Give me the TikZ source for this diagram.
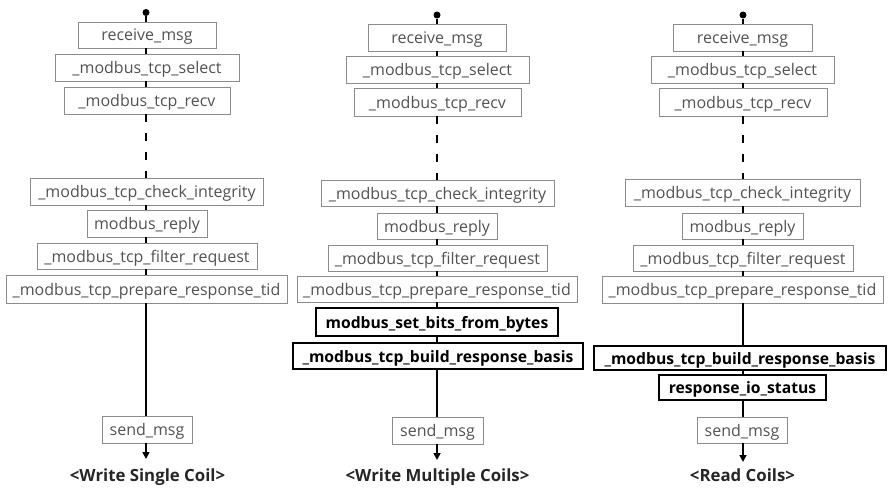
\documentclass[tikz,border=0pt]{standalone}
\usepackage{fontspec}
\setmainfont{Open Sans}
\usetikzlibrary{arrows.meta}
\begin{document}
\begin{tikzpicture}[x=1pt,y=-1pt,
  fn/.style={draw=black!45, line width=0.9pt, text=black!68, inner sep=0pt,
             text height=12pt, text depth=0pt,
             font=\fontsize{16}{16}\selectfont},
  fb/.style={draw=black, line width=2.4pt, text=black, inner sep=0pt,
             text height=12pt, text depth=0pt,
             font=\fontsize{15.7}{16}\selectfont\bfseries},
  link/.style={line width=2pt, draw=black},
  gap/.style={line width=2pt, draw=black, dash pattern=on 8pt off 11pt},
  tail/.style={line width=1.6pt, draw=black, -{Triangle[width=7pt,length=7pt]}},
  startdot/.style={circle, fill=black, inner sep=0pt, minimum size=7pt},
  caption/.style={font=\fontsize{16.8}{17}\selectfont\bfseries, text=black!85,
                  inner sep=0pt, anchor=base}
]
\useasboundingbox (0,0) rectangle (890,487);

% ---------- Write Single Coil ----------
\node[startdot] (s1) at (146,12.5) {};
\node[fn, minimum width=138, minimum height=26] (r1) at (147,35) {receive\_msg};
\node[fn, minimum width=184, minimum height=27] (sel1) at (147,67.5) {\_modbus\_tcp\_select};
\node[fn, minimum width=166, minimum height=27] (rcv1) at (147,100.5) {\_modbus\_tcp\_recv};
\node[fn, minimum width=233, minimum height=27] (chk1) at (147,191.5) {\_modbus\_tcp\_check\_integrity};
\node[fn, minimum width=120, minimum height=27] (rep1) at (147,223.5) {modbus\_reply};
\node[fn, minimum width=220, minimum height=26] (flt1) at (147,256) {\_modbus\_tcp\_filter\_request};
\node[fn, minimum width=281, minimum height=28] (tid1) at (146.5,289) {\_modbus\_tcp\_prepare\_response\_tid};
\node[fn, minimum width=90, minimum height=27] (snd1) at (147,429.5) {send\_msg};
\coordinate (e1) at (146,459);
\node[caption] (cap1) at (147.5,481.5) {<Write Single Coil>};

\draw[link] (s1) -- (r1.north -| s1);
\draw[link] (r1.south -| s1) -- (sel1.north -| s1);
\draw[link] (sel1.south -| s1) -- (rcv1.north -| s1);
\draw[gap] (rcv1.south -| s1) -- (chk1.north -| s1);
\draw[link] (chk1.south -| s1) -- (rep1.north -| s1);
\draw[link] (rep1.south -| s1) -- (flt1.north -| s1);
\draw[link] (flt1.south -| s1) -- (tid1.north -| s1);
\draw[link] (tid1.south -| s1) -- (snd1.north -| s1);
\draw[tail] (snd1.south -| s1) -- (e1);

% ---------- Write Multiple Coils ----------
\node[startdot] (s2) at (437,15) {};
\node[fn, minimum width=138, minimum height=27] (r2) at (437,37.5) {receive\_msg};
\node[fn, minimum width=183, minimum height=27] (sel2) at (437.5,69.5) {\_modbus\_tcp\_select};
\node[fn, minimum width=167, minimum height=28] (rcv2) at (437.5,102) {\_modbus\_tcp\_recv};
\node[fn, minimum width=233, minimum height=26] (chk2) at (437.5,193) {\_modbus\_tcp\_check\_integrity};
\node[fn, minimum width=120, minimum height=26] (rep2) at (437,226) {modbus\_reply};
\node[fn, minimum width=219, minimum height=26] (flt2) at (437.5,258) {\_modbus\_tcp\_filter\_request};
\node[fn, minimum width=280, minimum height=26] (tid2) at (437,289) {\_modbus\_tcp\_prepare\_response\_tid};
\node[fb, minimum width=242, minimum height=28] (bit2) at (437,322) {modbus\_set\_bits\_from\_bytes};
\node[fb, minimum width=290, minimum height=26] (bas2) at (438,356) {\_modbus\_tcp\_build\_response\_basis};
\node[fn, minimum width=91, minimum height=27] (snd2) at (437.5,430.5) {send\_msg};
\coordinate (e2) at (437,460);
\node[caption] (cap2) at (437.5,481) {<Write Multiple Coils>};

\draw[link] (s2) -- (r2.north -| s2);
\draw[link] (r2.south -| s2) -- (sel2.north -| s2);
\draw[link] (sel2.south -| s2) -- (rcv2.north -| s2);
\draw[gap] (rcv2.south -| s2) -- (chk2.north -| s2);
\draw[link] (chk2.south -| s2) -- (rep2.north -| s2);
\draw[link] (rep2.south -| s2) -- (flt2.north -| s2);
\draw[link] (flt2.south -| s2) -- (tid2.north -| s2);
\draw[link] (tid2.south -| s2) -- (bit2.north -| s2);
\draw[link] (bit2.south -| s2) -- (bas2.north -| s2);
\draw[link] (bas2.south -| s2) -- (snd2.north -| s2);
\draw[tail] (snd2.south -| s2) -- (e2);

% ---------- Read Coils ----------
\node[startdot] (s3) at (743,15) {};
\node[fn, minimum width=139, minimum height=27] (r3) at (742.5,37.5) {receive\_msg};
\node[fn, minimum width=183, minimum height=27] (sel3) at (742.5,69.5) {\_modbus\_tcp\_select};
\node[fn, minimum width=168, minimum height=28] (rcv3) at (743,102) {\_modbus\_tcp\_recv};
\node[fn, minimum width=235, minimum height=27] (chk3) at (742.5,192.5) {\_modbus\_tcp\_check\_integrity};
\node[fn, minimum width=121, minimum height=26] (rep3) at (742.5,226) {modbus\_reply};
\node[fn, minimum width=220, minimum height=26] (flt3) at (743,258) {\_modbus\_tcp\_filter\_request};
\node[fn, minimum width=281, minimum height=27] (tid3) at (742.5,289.5) {\_modbus\_tcp\_prepare\_response\_tid};
\node[fb, minimum width=292, minimum height=24] (bas3) at (740,358) {\_modbus\_tcp\_build\_response\_basis};
\node[fb, minimum width=167, minimum height=25] (ios3) at (742.5,387.5) {response\_io\_status};
\node[fn, minimum width=90, minimum height=26] (snd3) at (742,430) {send\_msg};
\coordinate (e3) at (743,462);
\node[caption] (cap3) at (742.5,481) {<Read Coils>};

\draw[link] (s3) -- (r3.north -| s3);
\draw[link] (r3.south -| s3) -- (sel3.north -| s3);
\draw[link] (sel3.south -| s3) -- (rcv3.north -| s3);
\draw[gap] (rcv3.south -| s3) -- (chk3.north -| s3);
\draw[link] (chk3.south -| s3) -- (rep3.north -| s3);
\draw[link] (rep3.south -| s3) -- (flt3.north -| s3);
\draw[link] (flt3.south -| s3) -- (tid3.north -| s3);
\draw[link] (tid3.south -| s3) -- (bas3.north -| s3);
\draw[link] (bas3.south -| s3) -- (ios3.north -| s3);
\draw[link] (ios3.south -| s3) -- (snd3.north -| s3);
\draw[tail] (snd3.south -| s3) -- (e3);
\end{tikzpicture}
\end{document}
